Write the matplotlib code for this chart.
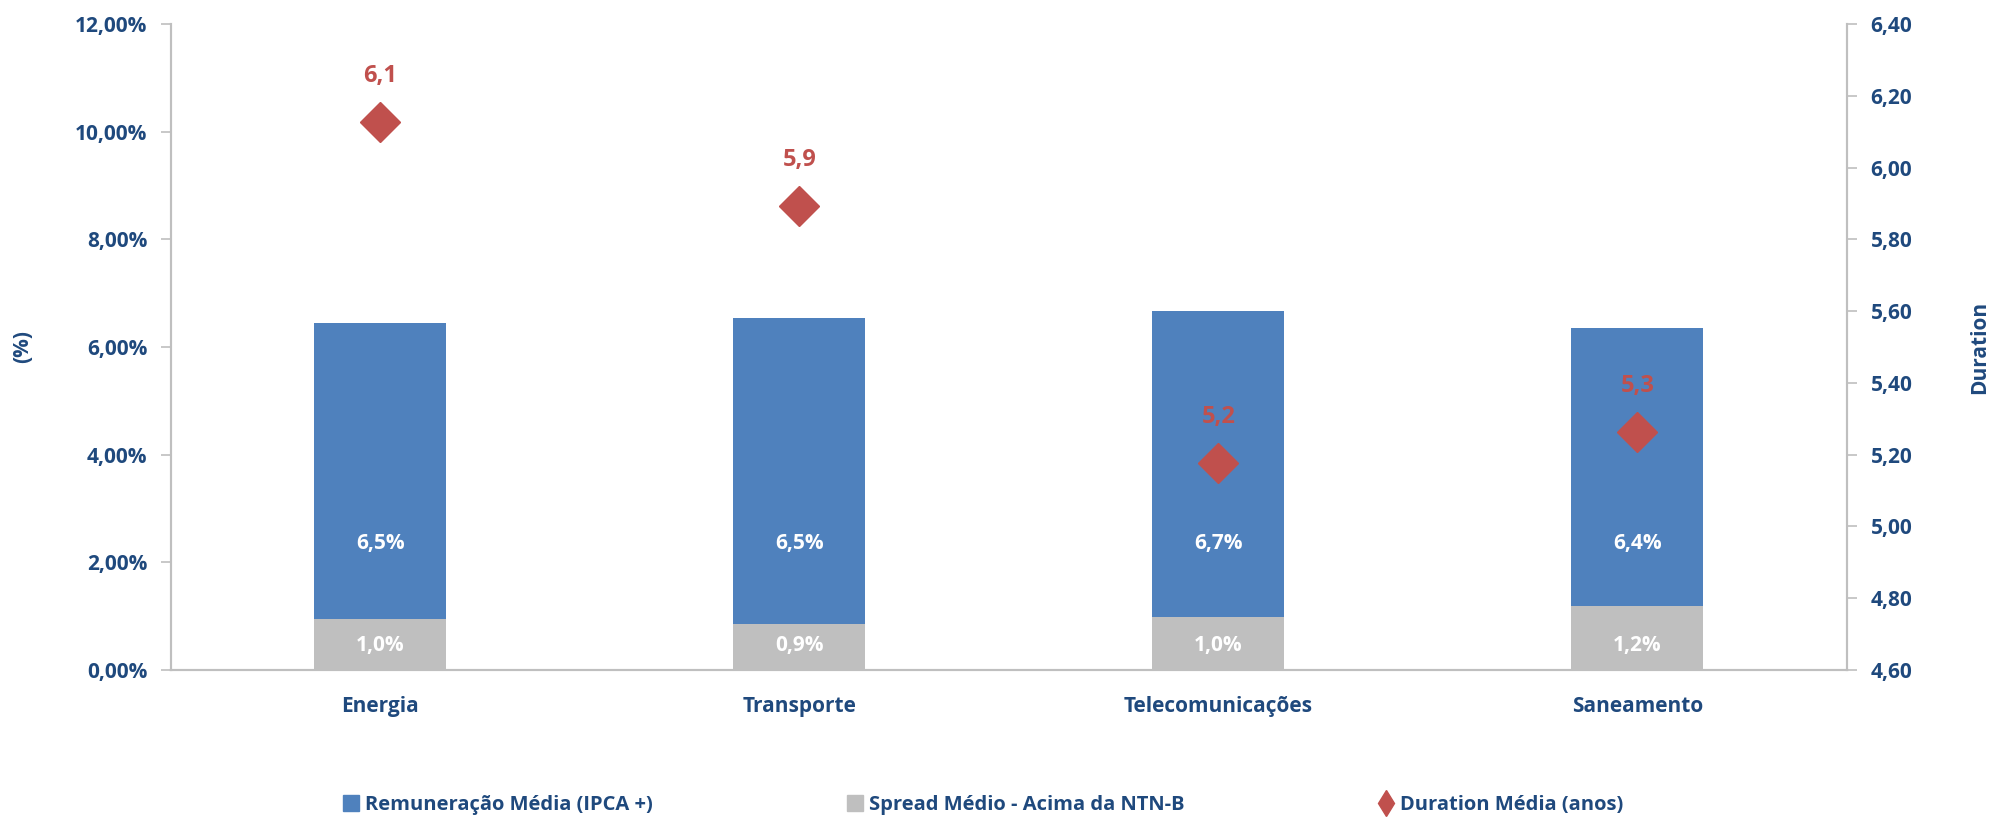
import matplotlib
matplotlib.use("Agg")
import matplotlib.pyplot as plt
from matplotlib.ticker import FuncFormatter, MultipleLocator
from matplotlib.lines import Line2D
import numpy as np

categories = ["Energia", "Transporte", "Telecomunicações", "Saneamento"]
remuneracao = [6.45, 6.53, 6.66, 6.36]
remuneracao_labels = ["6,5%", "6,5%", "6,7%", "6,4%"]
spread = [0.95, 0.85, 0.98, 1.18]
spread_labels = ["1,0%", "0,9%", "1,0%", "1,2%"]
duration = [6.127, 5.894, 5.178, 5.264]
duration_labels = ["6,1", "5,9", "5,2", "5,3"]
legend_labels = ["Remuneração Média (IPCA +)", "Spread Médio - Acima da NTN-B", "Duration Média (anos)"]

BLUE = "#4F81BD"
GREY = "#BFBFBF"
RED = "#C0504D"
NAVY = "#1F497D"
AX = "#BFBFBF"

plt.rcParams['font.family'] = ['Open Sans', 'DejaVu Sans']
plt.rcParams['font.weight'] = 'bold'

FS = 15

fig = plt.figure(figsize=(19.9, 8.18), dpi=100)
ax = fig.add_axes([0.0859, 0.181, 0.8422, 0.7897])
ax2 = ax.twinx()

x = np.arange(len(categories))
w = 0.315
ax.bar(x, remuneracao, width=w, color=BLUE, zorder=2)
ax.bar(x, spread, width=w, color=GREY, zorder=3)

for xi, lab in zip(x, remuneracao_labels):
    ax.text(xi, 2.35, lab, ha='center', va='center', color='white', fontsize=15, fontweight='bold', zorder=5)
for xi, lab in zip(x, spread_labels):
    ax.text(xi, 0.45, lab, ha='center', va='center', color='white', fontsize=15, fontweight='bold', zorder=5)

ax2.plot(x, duration, linestyle='none', marker='D', markersize=20, color=RED, zorder=4)
for xi, d, lab in zip(x, duration, duration_labels):
    ax2.annotate(lab, (xi, d), xytext=(0, 33), textcoords='offset points', ha='center', va='center',
                 color=RED, fontsize=17, fontweight='bold')

ax.set_xlim(-0.5, len(categories) - 0.5)
ax.set_ylim(0, 12)
ax2.set_ylim(4.6, 6.4)
ax.yaxis.set_major_locator(MultipleLocator(2))
ax2.yaxis.set_major_locator(MultipleLocator(0.2))
ax.yaxis.set_major_formatter(FuncFormatter(lambda v, p: f"{v:.2f}%".replace('.', ',')))
ax2.yaxis.set_major_formatter(FuncFormatter(lambda v, p: f"{v:.2f}".replace('.', ',')))

ax.set_xticks(x)
ax.set_xticklabels(categories)

for a in (ax, ax2):
    for s in a.spines.values():
        s.set_color(AX)
        s.set_linewidth(1.5)
    a.spines['top'].set_visible(False)
    a.tick_params(axis='y', colors=AX, labelcolor=NAVY, labelsize=FS, length=7, width=1.2, direction='out', pad=10)
ax.tick_params(axis='x', length=0, labelcolor=NAVY, labelsize=FS, pad=19)
for lbl in ax.get_yticklabels() + ax2.get_yticklabels() + ax.get_xticklabels():
    lbl.set_fontweight('bold')

ax.set_ylabel("(%)", color=NAVY, fontsize=FS, fontweight='bold')
ax.yaxis.set_label_coords(-0.082, 0.5)
ax2.set_ylabel("Duration", color=NAVY, fontsize=FS, fontweight='bold')
ax2.yaxis.set_label_coords(1.073, 0.5)

handles = [
    Line2D([], [], linestyle='none', marker='s', markersize=12, color=BLUE),
    Line2D([], [], linestyle='none', marker='s', markersize=12, color=GREY),
    Line2D([], [], linestyle='none', marker='d', markersize=13, color=RED),
]
leg = fig.legend(handles, legend_labels, loc='center', bbox_to_anchor=(0.494, 0.016), ncol=3, frameon=False,
                 columnspacing=9.6, handlelength=0.8, handletextpad=0.3, prop={'weight': 'bold', 'size': 14.5})
for t in leg.get_texts():
    t.set_color(NAVY)

fig.savefig("out.png", dpi=100)
